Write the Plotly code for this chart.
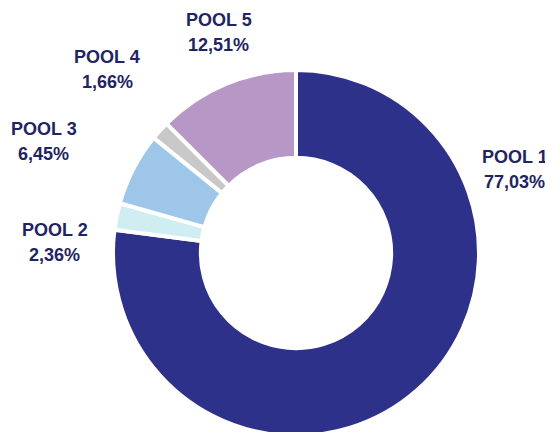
import plotly.graph_objects as go

pools = ["POOL 1", "POOL 2", "POOL 3", "POOL 4", "POOL 5"]
shares = [77.03, 2.36, 6.45, 1.66, 12.51]
colors = ["#2E3189", "#D0EDF2", "#9DC6E9", "#C8C8C8", "#B797C5"]

# label centres in paper coords (x, y)
label_pos = [(0.930, 0.623), (0.086, 0.453), (0.066, 0.687), (0.182, 0.857), (0.387, 0.942)]

# the page puts an 8px body margin round the plot; the ring runs off the bottom
W, H = 545, 428

fig = go.Figure(
    go.Pie(
        labels=pools,
        values=shares,
        hole=0.52,
        sort=False,
        direction="clockwise",
        rotation=0,
        marker={"colors": colors, "line": {"color": "white", "width": 4}},
        textinfo="none",
        hoverinfo="label+percent",
        showlegend=False,
        domain={"x": [105 / W, 471 / W], "y": [0, 366 / H]},
    )
)

font = {"family": "Liberation Sans, Arial", "size": 18, "color": "#1F2462"}
annotations = []
for name, v, (x, y) in zip(pools, shares, label_pos):
    pct = f"{v:.2f}%".replace(".", ",")
    for txt, shift in ((name, 12.5), (pct, -12.5)):
        annotations.append(
            dict(
                text=f"<b>{txt}</b>",
                x=x,
                y=y,
                yshift=shift,
                xref="paper",
                yref="paper",
                showarrow=False,
                font=font,
                xanchor="center",
                yanchor="middle",
            )
        )

fig.update_layout(
    width=W,
    height=H,
    margin={"l": 0, "r": 0, "t": 0, "b": 0},
    paper_bgcolor="white",
    plot_bgcolor="white",
    annotations=annotations,
)

fig.write_html("out.html")
